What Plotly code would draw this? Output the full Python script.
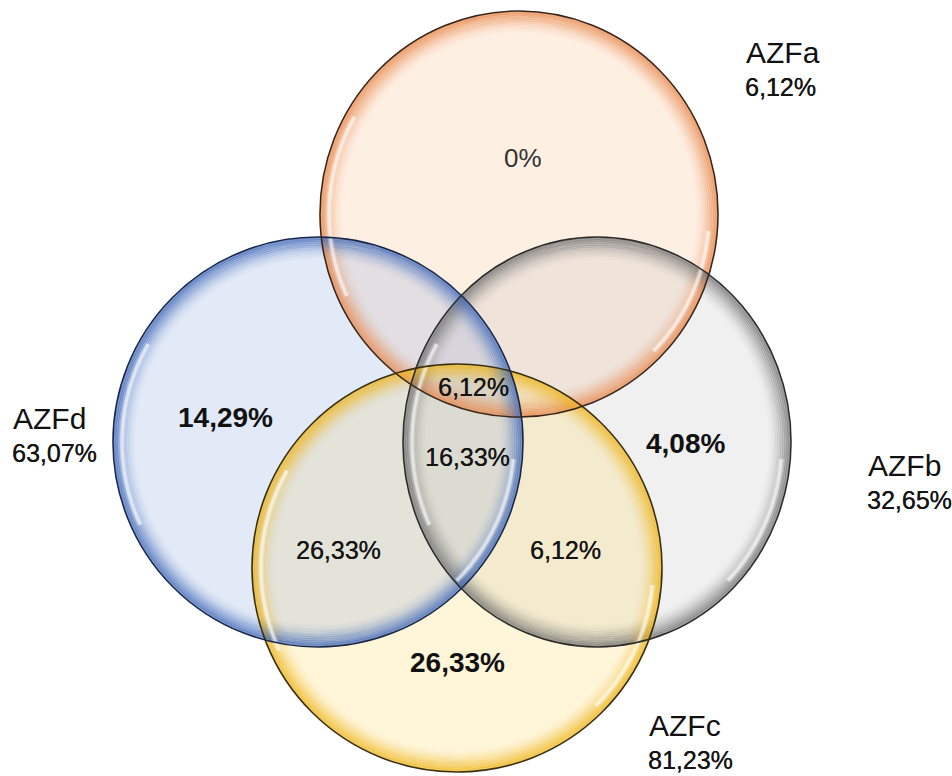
import math
import plotly.graph_objects as go

# Four Y-chromosome AZF deletion sets and the share of each region
sets = ["AZFa", "AZFb", "AZFc", "AZFd"]
set_totals = ["6,12%", "32,65%", "81,23%", "63,07%"]

region_labels = ["0%", "4,08%", "26,33%", "14,29%", "6,12%", "16,33%", "26,33%", "6,12%"]
region_bold = [False, True, True, True, False, False, False, False]

# Circle layout (pixel space of the 952x776 canvas)
circle_cx = [519, 597, 457, 318]
circle_cy = [214, 442, 568, 442]
circle_rx = [199, 194, 205, 205]
circle_ry = [203, 205, 204, 205]

fill_rgb = [(250, 196, 155), (185, 185, 185), (255, 222, 120), (145, 172, 225)]
fill_alpha = [0.28, 0.22, 0.28, 0.25]
edge_rgb = [(232, 135, 75), (115, 115, 115), (238, 180, 25), (65, 105, 185)]
outline_col = ["#3a2416", "#2b2b2b", "#3a2e0c", "#17264a"]

region_x = [523, 685, 457, 225, 473, 467, 338, 565]
region_y = [158, 443, 662, 417, 387, 457, 550, 550]

label_x = [743, 865, 646, 10]
label_y = [52, 465, 725, 418]

W, H = 952, 776
SANS = "Liberation Sans, Arial, sans-serif"
THICK = "0.3px 0 0 #1a1a1a"


def arc_path(cx, cy, rx, ry, t0, t1, n=40):
    pts = []
    for i in range(n + 1):
        t = math.radians(t0 + (t1 - t0) * i / n)
        pts.append((cx + rx * math.cos(t), cy - ry * math.sin(t)))
    return "M " + " L ".join(f"{x:.2f},{y:.2f}" for x, y in pts)


shapes = []

# translucent bodies
for i in range(len(sets)):
    r, g, b = fill_rgb[i]
    shapes.append(dict(
        type="circle", xref="x", yref="y",
        x0=circle_cx[i] - circle_rx[i], x1=circle_cx[i] + circle_rx[i],
        y0=circle_cy[i] - circle_ry[i], y1=circle_cy[i] + circle_ry[i],
        fillcolor=f"rgba({r},{g},{b},{fill_alpha[i]})",
        line=dict(width=0),
    ))

# soft coloured rim fading inward
for i in range(len(sets)):
    r, g, b = edge_rgb[i]
    for k in range(1, 13):
        d = k * 1.8
        a = 0.75 * (1 - k / 13) ** 1.7
        shapes.append(dict(
            type="circle", xref="x", yref="y",
            x0=circle_cx[i] - circle_rx[i] + d, x1=circle_cx[i] + circle_rx[i] - d,
            y0=circle_cy[i] - circle_ry[i] + d, y1=circle_cy[i] + circle_ry[i] - d,
            line=dict(color=f"rgba({r},{g},{b},{a:.3f})", width=2.4),
        ))

# glossy highlights
for i in range(len(sets)):
    for t0, t1 in [(150, 205), (-5, -45)]:
        for w, op in [(6, 0.25), (3, 0.55)]:
            shapes.append(dict(
                type="path", xref="x", yref="y",
                path=arc_path(circle_cx[i], circle_cy[i], circle_rx[i] - 9, circle_ry[i] - 9, t0, t1),
                line=dict(color=f"rgba(255,255,255,{op})", width=w),
            ))

# outlines
for i in range(len(sets)):
    shapes.append(dict(
        type="circle", xref="x", yref="y",
        x0=circle_cx[i] - circle_rx[i], x1=circle_cx[i] + circle_rx[i],
        y0=circle_cy[i] - circle_ry[i], y1=circle_cy[i] + circle_ry[i],
        line=dict(color=outline_col[i], width=1.6),
    ))

annotations = []
for txt, x, y, bold in zip(region_labels, region_x, region_y, region_bold):
    if txt == "0%":
        font = dict(family=SANS, size=26, color="#333333")
    elif bold:
        font = dict(family=SANS, size=28, color="#111111", weight="bold")
    else:
        font = dict(family=SANS, size=25, color="#151515", shadow=THICK)
    annotations.append(dict(x=x, y=y, xref="x", yref="y", text=txt, showarrow=False,
                            xanchor="center", yanchor="middle", font=font))

for name, pct, x, y in zip(sets, set_totals, label_x, label_y):
    annotations.append(dict(x=x + 1, y=y, xref="x", yref="y", text=name, showarrow=False,
                            xanchor="left", yanchor="middle",
                            font=dict(family=SANS, size=30, color="#111111")))
    annotations.append(dict(x=x, y=y + 35, xref="x", yref="y", text=pct, showarrow=False,
                            xanchor="left", yanchor="middle",
                            font=dict(family=SANS, size=25, color="#151515", shadow=THICK)))

fig = go.Figure()
fig.update_layout(
    width=W, height=H,
    margin=dict(l=0, r=0, t=0, b=0),
    paper_bgcolor="white", plot_bgcolor="white",
    xaxis=dict(range=[0, W], visible=False, fixedrange=True),
    yaxis=dict(range=[H, 0], visible=False, fixedrange=True),
    shapes=shapes, annotations=annotations, showlegend=False,
)
fig.write_html("out.html")
